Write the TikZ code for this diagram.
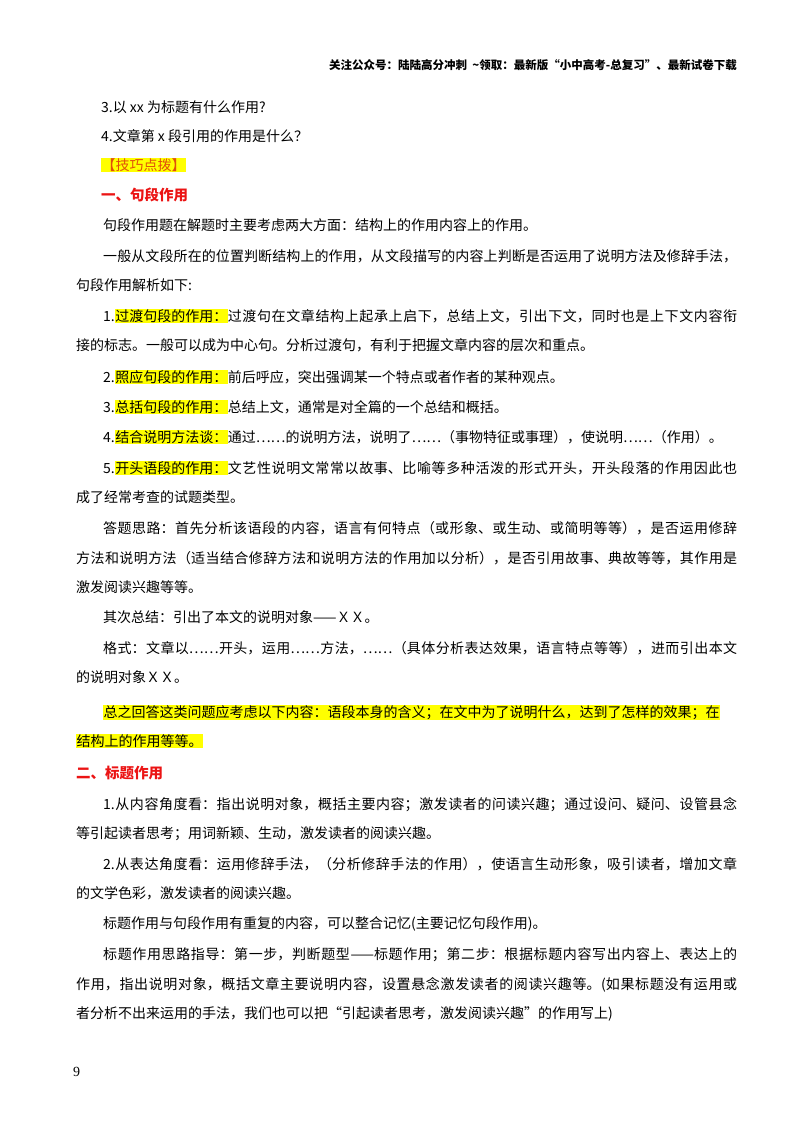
\documentclass[tikz,border=0pt]{standalone}
\usepackage{fontspec}
\setmainfont{Liberation Serif}
\newfontfamily\cjk{Noto Sans CJK SC}
\definecolor{hl}{RGB}{255,255,0}
\definecolor{rd}{RGB}{235,20,20}
\definecolor{og}{RGB}{225,80,10}
\newcommand{\hlt}[1]{{\setlength{\fboxsep}{0.5pt}\colorbox{hl}{#1}}}
\tikzset{ln/.style={anchor=base west,inner sep=0pt,font=\cjk\fontsize{14}{14}\selectfont},
 hd/.style={ln,text=rd,font=\cjk\bfseries\fontsize{14.5}{14}\selectfont}}
\newcommand{\FL}[4]{\node[ln] (#1) at (#2pt,-#3pt) {\parbox{\dimexpr737pt-#2pt\relax}{\XeTeXlinebreaklocale "zh"\XeTeXlinebreakskip=0pt plus 3pt\parfillskip=0pt\relax #4}};}
\newcommand{\PL}[4]{\node[ln] (#1) at (#2pt,-#3pt) {#4};}
\begin{document}
\begin{tikzpicture}[x=1pt,y=1pt]
\useasboundingbox (0,0) rectangle (800,-1132);
\node[ln,font=\cjk\bfseries\fontsize{11.5}{12}\selectfont,anchor=base east] (hdr) at (737,-70) {关注公众号：陆陆高分冲刺\ \ \~{}领取：最新版“小中高考-总复习”、最新试卷下载};
\PL{a1}{101}{112}{3.以 xx 为标题有什么作用?}
\PL{a2}{101}{141}{4.文章第 x 段引用的作用是什么？}
\PL{a3}{101}{170}{\setlength{\fboxsep}{0.5pt}\colorbox{hl}{\textcolor{og}{【技巧点拨】}}}
\node[hd] (h1) at (101,-200) {一、句段作用};
\PL{b1}{103}{230}{句段作用题在解题时主要考虑两大方面：结构上的作用内容上的作用。}
\FL{b2}{103}{260}{一般从文段所在的位置判断结构上的作用，从文段描写的内容上判断是否运用了说明方法及修辞手法，}
\PL{b3}{76}{290}{句段作用解析如下:}
\FL{c1}{103}{320}{1.\hlt{过渡句段的作用：}过渡句在文章结构上起承上启下，总结上文，引出下文，同时也是上下文内容衔}
\PL{c2}{76}{350}{接的标志。一般可以成为中心句。分析过渡句，有利于把握文章内容的层次和重点。}
\PL{c3}{103}{382}{2.\hlt{照应句段的作用：}前后呼应，突出强调某一个特点或者作者的某种观点。}
\PL{c4}{103}{412}{3.\hlt{总括句段的作用：}总结上文，通常是对全篇的一个总结和概括。}
\PL{c5}{103}{442}{4.\hlt{结合说明方法谈：}通过……的说明方法，说明了……（事物特征或事理），使说明……（作用）。}
\FL{c6}{103}{472}{5.\hlt{开头语段的作用：}文艺性说明文常常以故事、比喻等多种活泼的形式开头，开头段落的作用因此也}
\PL{c7}{76}{502}{成了经常考查的试题类型。}
\FL{d1}{103}{532}{答题思路：首先分析该语段的内容，语言有何特点（或形象、或生动、或简明等等），是否运用修辞}
\FL{d2}{76}{562}{方法和说明方法（适当结合修辞方法和说明方法的作用加以分析），是否引用故事、典故等等，其作用是}
\PL{d3}{76}{592}{激发阅读兴趣等等。}
\PL{d4}{103}{622}{其次总结：引出了本文的说明对象——ＸＸ。}
\FL{d5}{103}{652}{格式：文章以……开头，运用……方法，……（具体分析表达效果，语言特点等等），进而引出本文}
\PL{d6}{76}{682}{的说明对象ＸＸ。}
\FL{e1}{103}{716}{\hlt{总之回答这类问题应考虑以下内容：语段本身的含义；在文中为了说明什么，达到了怎样的效果；在}}
\PL{e2}{76}{746}{\hlt{结构上的作用等等。}}
\node[hd] (h2) at (76,-778) {二、标题作用};
\FL{f1}{103}{808}{1.从内容角度看：指出说明对象，概括主要内容；激发读者的问读兴趣；通过设问、疑问、设管县念}
\PL{f2}{76}{838}{等引起读者思考；用词新颖、生动，激发读者的阅读兴趣。}
\FL{f3}{103}{868}{2.从表达角度看：运用修辞手法，（分析修辞手法的作用），使语言生动形象，吸引读者，增加文章}
\PL{f4}{76}{898}{的文学色彩，激发读者的阅读兴趣。}
\PL{f5}{103}{928}{标题作用与句段作用有重复的内容，可以整合记忆(主要记忆句段作用)。}
\FL{g1}{103}{958}{标题作用思路指导：第一步，判断题型——标题作用；第二步：根据标题内容写出内容上、表达上的}
\FL{g2}{76}{988}{作用，指出说明对象，概括文章主要说明内容，设置悬念激发读者的阅读兴趣等。(如果标题没有运用或}
\PL{g3}{76}{1018}{者分析不出来运用的手法，我们也可以把“引起读者思考，激发阅读兴趣”的作用写上)}
\node[ln,font=\fontsize{14}{14}\selectfont] (pg) at (73,-1076) {9};
\end{tikzpicture}
\end{document}
